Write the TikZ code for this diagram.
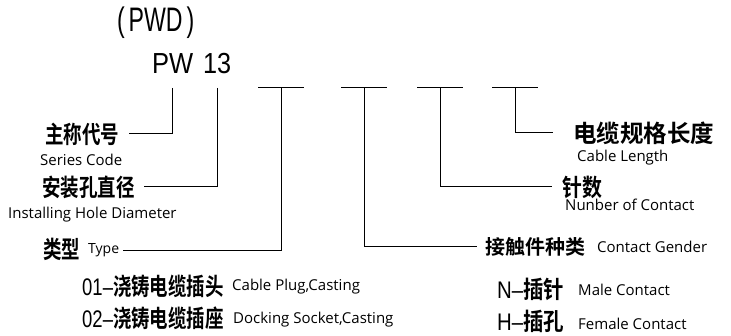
\documentclass[tikz,border=0pt]{standalone}
\usepackage{fontspec}
\usepackage{graphicx}
\setmainfont{Liberation Sans}
\newfontfamily\cjk{Noto Sans CJK SC Bold}
\newfontfamily\lbl{Open Sans}
\newcommand\sx[2]{\scalebox{#1}[1]{#2}}

\tikzset{
  codetxt/.style={font=\fontsize{29}{29}\selectfont, inner sep=0pt, anchor=base west},
  zh/.style={font=\cjk\fontsize{24}{24}\selectfont, inner sep=0pt, anchor=west},
  en/.style={font=\lbl\fontsize{15}{15}\selectfont, inner sep=0pt, anchor=base west},
  lead/.style={line width=1pt},
}

\begin{document}
\begin{tikzpicture}[x=1pt,y=-1pt]
 \useasboundingbox (0,0) rectangle (731,336);
 % model code
 \node [codetxt, font=\fontsize{34}{34}\selectfont] (title) at (117,32) {\sx{0.68}{(\,PWD\,)}};
 \node [codetxt] (pw) at (152,74) {\sx{0.88}{PW}};
 \node [codetxt] (num) at (203,74) {\sx{0.87}{13}};
 % blank positions
 \coordinate (top) at (0,88);
 \coordinate (b1) at (281,88);
 \coordinate (b2) at (364,88);
 \coordinate (b3) at (440,88);
 \coordinate (b4) at (515,88);
 \foreach \b in {b1,b2,b3,b4}
   \draw [lead] ([xshift=-23pt]\b) -- ([xshift=23pt]\b);
 % left labels
 \node [zh] (series) at (45,134) {\sx{0.77}{主称代号}};
 \node [en] (seriesen) at (40,166) {Series Code};
 \node [zh] (hole) at (42,187) {\sx{0.77}{安装孔直径}};
 \node [en] (holeen) at (8,219) {Installing Hole Diameter};
 \node [zh] (type) at (43,249) {\sx{0.77}{类型}};
 \node [en, font=\lbl\fontsize{14}{14}\selectfont] (typeen) at (88,254) {Type};
 \node [zh] (plug) at (82,286) {\sx{0.77}{{\rmfamily 01–}浇铸电缆插头}};
 \node [en] (plugen) at (232,291) {Cable Plug,Casting};
 \node [zh] (socket) at (82,318) {\sx{0.77}{{\rmfamily 02–}浇铸电缆插座}};
 \node [en] (socketen) at (233,324) {Docking Socket,Casting};
 % right labels
 \node [zh] (len) at (573,133) {\sx{0.98}{电缆规格长度}};
 \node [en] (lenen) at (577,162) {Cable Length};
 \node [zh] (pins) at (562,187) {\sx{0.83}{针数}};
 \node [en] (pinsen) at (565,211) {Nunber of Contact};
 \node [zh, font=\cjk\fontsize{20}{20}\selectfont] (gender) at (485,247) {接触件种类};
 \node [en] (genderen) at (597,253) {Contact Gender};
 \node [zh] (male) at (497,289) {\sx{0.85}{{\rmfamily N–}插针}};
 \node [en] (maleen) at (578,296) {Male Contact};
 \node [zh] (female) at (497,321) {\sx{0.85}{{\rmfamily H–}插孔}};
 \node [en] (femaleen) at (578,330) {Female Contact};
 % leaders
 \draw [lead] (pw.south |- top) |- ([xshift=10pt]series.east);
 \draw [lead] (num.south |- top) |- ([xshift=9pt]hole.east);
 \draw [lead] (b1) |- ([xshift=4pt]typeen.east);
 \draw [lead] (b2) |- ([xshift=-8pt]gender.west);
 \draw [lead] (b3) |- ([xshift=-10pt]pins.west);
 \draw [lead] (b4) |- ([xshift=-20pt]len.west);
\end{tikzpicture}
\end{document}
